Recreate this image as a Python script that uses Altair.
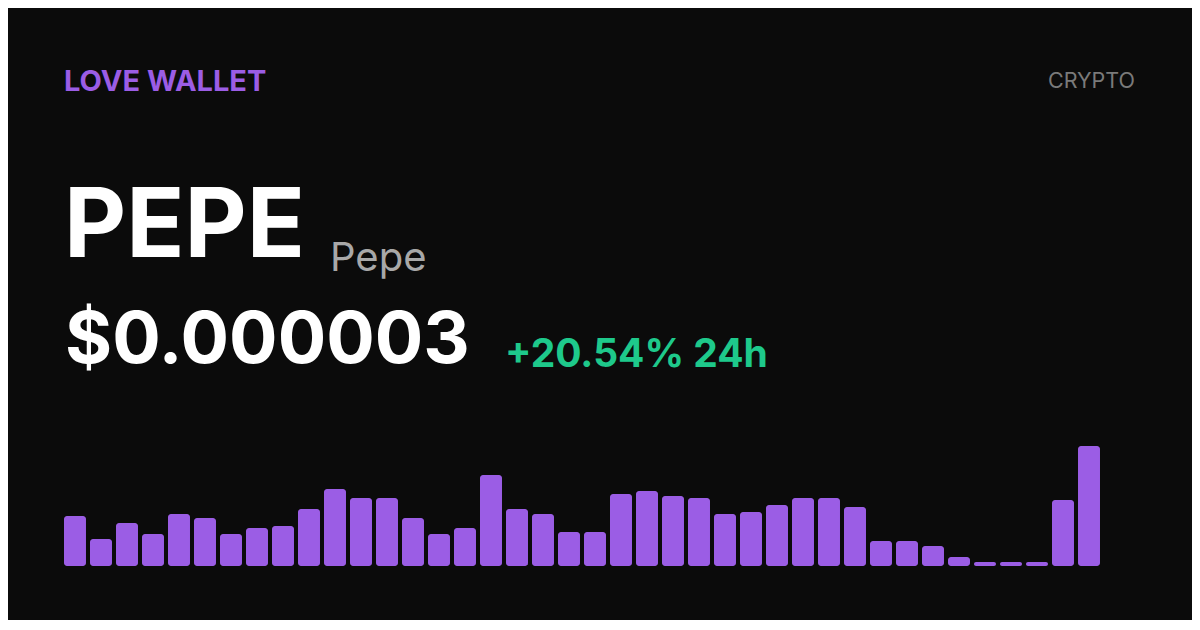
import altair as alt
import pandas as pd

# ---- data ----
brand = ["LOVE WALLET"]
category = ["CRYPTO"]
symbol = ["PEPE"]
name = ["Pepe"]
price = ["$0.000003"]
change = ["+20.54% 24h"]

bar_index = list(range(1, 41))
bar_values = [50, 27, 43, 32, 52, 48, 32, 38, 40, 57,
              77, 68, 68, 48, 32, 38, 91, 57, 52, 34,
              34, 72, 75, 70, 68, 52, 54, 61, 68, 68,
              59, 25, 25, 20, 9, 4, 4, 4, 66, 120]

BG = "#0b0b0b"
PURPLE = "#9b5de5"
GREEN = "#1ec98b"
FONT = "Inter"

bars_df = pd.DataFrame({"i": bar_index, "v": bar_values})

bars = alt.Chart(bars_df).mark_bar(color=PURPLE, cornerRadius=3).encode(
    x=alt.X("i:O", axis=None,
            scale=alt.Scale(range=[56, 1092], paddingInner=0.154, paddingOuter=0)),
    y=alt.Y("v:Q", axis=None, scale=alt.Scale(domain=[0, 120], range=[558, 438])),
)


def label(values, x, y, size, color, weight="normal", align="left"):
    df = pd.DataFrame({"t": values})
    return alt.Chart(df).mark_text(
        font=FONT, fontSize=size, fontWeight=weight, color=color,
        align=align, baseline="alphabetic",
    ).encode(text="t:N", x=alt.value(x), y=alt.value(y))


layers = [
    bars,
    label(brand, 56, 83, 29, PURPLE, "bold"),
    label(category, 1127, 79.5, 21.5, "#7a7a7a", "normal", "right"),
    label(symbol, 56, 249, 96, "#ffffff", "bold"),
    label(name, 322, 263, 40, "#a8a8a8"),
    label(price, 57, 355, 72, "#ffffff", "bold"),
    label(change, 497, 359, 39, GREEN, "bold"),
]

chart = alt.layer(*layers).properties(
    width=1184, height=612, padding=0,
    autosize=alt.AutoSizeParams(type="none"),
    background=BG,
).configure_view(stroke=None, fill=BG)

chart.save("out.html", embed_options={"renderer": "svg", "actions": False})
